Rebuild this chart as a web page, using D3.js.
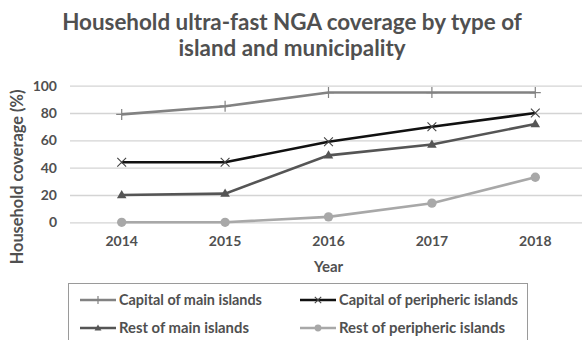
<!DOCTYPE html>
<html>
<head>
<meta charset="utf-8">
<script src="https://cdn.jsdelivr.net/npm/d3@7"></script>
<style>
  html, body { margin: 0; padding: 0; background: #fff; }
  svg { display: block; }
  text { font-family: Lato, "Open Sans", sans-serif; }
</style>
</head>
<body>
<div id="chart"></div>
<script>
// Household ultra-fast NGA coverage (%) by island / municipality type
const years = ["2014", "2015", "2016", "2017", "2018"];
const yTicks = [0, 20, 40, 60, 80, 100];

const capitalMain = [79, 85, 95, 95, 95];
const capitalPeripheric = [44, 44, 59, 70, 80];
const restMain = [20, 21, 49, 57, 72];
const restPeripheric = [0, 0, 4, 14, 33];

const seriesNames = [
  "Capital of main islands",
  "Capital of peripheric islands",
  "Rest of main islands",
  "Rest of peripheric islands"
];

const series = [
  { name: seriesNames[0], values: capitalMain, color: "#828282", marker: "plus" },
  { name: seriesNames[1], values: capitalPeripheric, color: "#111111", marker: "cross" },
  { name: seriesNames[2], values: restMain, color: "#555555", marker: "triangle" },
  { name: seriesNames[3], values: restPeripheric, color: "#a8a8a8", marker: "circle" }
];

const W = 582, H = 340;
const svg = d3.select("#chart").append("svg").attr("width", W).attr("height", H);

const plot = { left: 70, right: 587, top: 85.7, bottom: 222.3 };

const x = d3.scaleBand().domain(years).range([plot.left, plot.right]);
const y = d3.scaleLinear().domain([0, 100]).range([plot.bottom, plot.top]);
const cx = d => x(d) + x.bandwidth() / 2;

const textColor = "#505050";

// fit a text element to a target width by adjusting its font size
function fitWidth(sel, target) {
  const node = sel.node();
  const size = parseFloat(sel.attr("font-size"));
  const w = node.getComputedTextLength();
  if (w > 0) sel.attr("font-size", (size * target / w).toFixed(2));
}

// title
const title1 = svg.append("text").attr("x", 292).attr("y", 30)
  .attr("text-anchor", "middle").attr("font-size", 21).attr("font-weight", 700)
  .attr("fill", textColor).text("Household ultra-fast NGA coverage by type of");
fitWidth(title1, 460);
const fs = title1.attr("font-size");
svg.append("text").attr("x", 292).attr("y", 56)
  .attr("text-anchor", "middle").attr("font-size", fs).attr("font-weight", 700)
  .attr("fill", textColor).text("island and municipality");

// gridlines + y axis labels
const yAxis = d3.axisLeft(y).tickValues(yTicks).tickSize(-(W - plot.left)).tickPadding(13);
const gy = svg.append("g").attr("transform", `translate(${plot.left},0)`).call(yAxis);
gy.select(".domain").remove();
gy.selectAll(".tick line").attr("stroke", "#d4d4d4").attr("stroke-width", 1.3);
gy.selectAll(".tick text").attr("font-size", 14).attr("font-weight", 700)
  .attr("fill", textColor).attr("font-family", "Lato, sans-serif");

// x axis labels
const xAxis = d3.axisBottom(x).tickSize(0).tickPadding(14);
const gx = svg.append("g").attr("transform", `translate(0,${plot.bottom})`).call(xAxis);
gx.select(".domain").remove();
gx.selectAll(".tick text").attr("font-size", 14).attr("font-weight", 700)
  .attr("fill", textColor).attr("font-family", "Lato, sans-serif");

// axis titles
svg.append("text").attr("x", cx("2016")).attr("y", 272)
  .attr("text-anchor", "middle").attr("font-size", 15).attr("font-weight", 700)
  .attr("fill", textColor).text("Year");
const yTitle = svg.append("text")
  .attr("transform", "translate(23,177) rotate(-90)")
  .attr("text-anchor", "middle").attr("font-size", 15).attr("font-weight", 700)
  .attr("fill", textColor).text("Household coverage (%)");
fitWidth(yTitle, 175);

// marker drawing
function drawMarker(g, type, color, px, py, s) {
  if (type === "plus") {
    g.append("path").attr("d", `M${px - s},${py}H${px + s}M${px},${py - s}V${py + s}`)
      .attr("stroke", color).attr("stroke-width", 1.2).attr("fill", "none");
  } else if (type === "cross") {
    const k = s * 0.8;
    g.append("path").attr("d", `M${px - k},${py - k}L${px + k},${py + k}M${px - k},${py + k}L${px + k},${py - k}`)
      .attr("stroke", "#444").attr("stroke-width", 1.1).attr("fill", "none");
  } else if (type === "triangle") {
    g.append("path").attr("d", d3.symbol(d3.symbolTriangle, s * s * 1.3)())
      .attr("transform", `translate(${px},${py + 0.5})`).attr("fill", color);
  } else {
    g.append("circle").attr("cx", px).attr("cy", py).attr("r", s * 0.85).attr("fill", color);
  }
}

const line = d3.line().x(d => cx(d.year)).y(d => y(d.value));

series.forEach(s => {
  const pts = years.map((yr, i) => ({ year: yr, value: s.values[i] }));
  const g = svg.append("g");
  g.append("path").datum(pts).attr("d", line)
    .attr("fill", "none").attr("stroke", s.color).attr("stroke-width", 2.6);
  pts.forEach(p => drawMarker(g, s.marker, s.color, cx(p.year), y(p.value), 5.5));
});

// legend
const legend = svg.append("g");
legend.append("rect").attr("x", 68.5).attr("y", 283.5).attr("width", 459).attr("height", 80)
  .attr("fill", "none").attr("stroke", "#9a9a9a").attr("stroke-width", 1);

const legendPos = [
  { x0: 80, y0: 300 },
  { x0: 300, y0: 300 },
  { x0: 80, y0: 328 },
  { x0: 300, y0: 328 }
];
const legendWidths = [143, 179, 130, 166];

series.forEach((s, i) => {
  const p = legendPos[i];
  const g = legend.append("g");
  g.append("line").attr("x1", p.x0).attr("x2", p.x0 + 36).attr("y1", p.y0).attr("y2", p.y0)
    .attr("stroke", s.color).attr("stroke-width", 2.4);
  drawMarker(g, s.marker, s.color, p.x0 + 18, p.y0, 4);
  const t = g.append("text").attr("x", p.x0 + 39).attr("y", p.y0 + 5)
    .attr("font-size", 14).attr("font-weight", 700).attr("fill", "#505050").text(s.name);
  fitWidth(t, legendWidths[i]);
});
</script>
</body>
</html>
